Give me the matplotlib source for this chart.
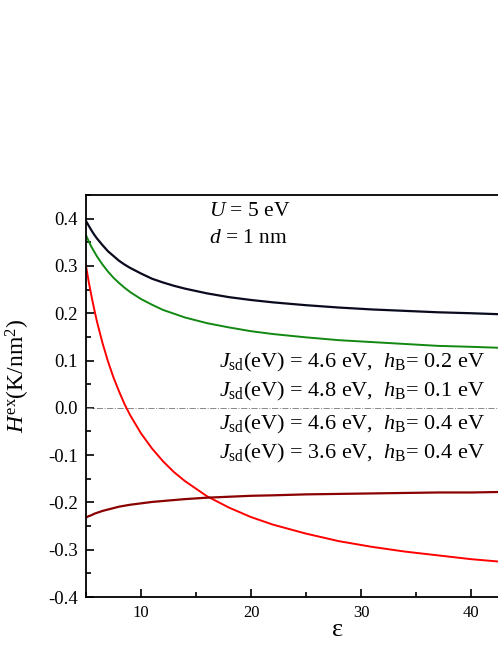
import matplotlib
matplotlib.use("Agg")
import matplotlib.pyplot as plt
from matplotlib.ticker import MultipleLocator

plt.rcParams['font.family'] = ['Liberation Serif', 'DejaVu Serif']
plt.rcParams['mathtext.fontset'] = 'custom'
plt.rcParams['mathtext.rm'] = 'Liberation Serif'
plt.rcParams['mathtext.it'] = 'Liberation Serif:italic'
plt.rcParams['mathtext.bf'] = 'Liberation Serif:bold'

# data
eps = [5, 5.25, 5.5, 5.75, 6, 6.5, 7, 7.5, 8, 8.5, 9, 10, 11, 12, 13, 14, 16, 18, 20, 22, 25, 28, 31, 34, 37, 40, 42.5]
black = [0.395, 0.385, 0.375, 0.366, 0.358, 0.344, 0.331, 0.321, 0.311, 0.303, 0.296, 0.284, 0.273, 0.265, 0.258,
         0.252, 0.242, 0.234, 0.228, 0.223, 0.217, 0.212, 0.208, 0.205, 0.202, 0.200, 0.198]
green = [0.365, 0.352, 0.340, 0.330, 0.320, 0.303, 0.288, 0.275, 0.264, 0.254, 0.245, 0.230, 0.218, 0.207, 0.199,
         0.191, 0.179, 0.170, 0.162, 0.156, 0.149, 0.143, 0.139, 0.135, 0.131, 0.129, 0.127]
red = [0.300, 0.266, 0.236, 0.208, 0.182, 0.137, 0.098, 0.064, 0.035, 0.008, -0.015, -0.054, -0.086, -0.113, -0.136,
       -0.155, -0.187, -0.211, -0.231, -0.247, -0.266, -0.282, -0.294, -0.304, -0.312, -0.320, -0.325]
darkred = [-0.232, -0.229, -0.227, -0.224, -0.222, -0.218, -0.215, -0.212, -0.209, -0.207, -0.205, -0.202, -0.199, -0.197, -0.195,
           -0.193, -0.190, -0.188, -0.186, -0.185, -0.183, -0.182, -0.181, -0.180, -0.179, -0.179, -0.178]

labels = [r'$J_\mathrm{sd}$(eV) = 4.6 eV,  $h_\mathrm{B}$= 0.2 eV',
          r'$J_\mathrm{sd}$(eV) = 4.8 eV,  $h_\mathrm{B}$= 0.1 eV',
          r'$J_\mathrm{sd}$(eV) = 4.6 eV,  $h_\mathrm{B}$= 0.4 eV',
          r'$J_\mathrm{sd}$(eV) = 3.6 eV,  $h_\mathrm{B}$= 0.4 eV']
label_y = [0.096, 0.034, -0.036, -0.096]

fig = plt.figure(figsize=(4.98, 6.45), dpi=100)
ax = fig.add_axes([86/498, 48/645, 1 - 86/498, (597-195)/645])

ax.axhline(0, color='#888888', lw=0.7, ls='-.')
ax.plot(eps, black, color='#0a0a1e', lw=1.6)
ax.plot(eps, green, color='#118811', lw=1.4)
ax.plot(eps, red, color='#ff0000', lw=1.4)
ax.plot(eps, darkred, color='#8b0000', lw=1.6)

ax.set_xlim(5, 42.45)
ax.set_ylim(-0.4, 0.45)
ax.spines['right'].set_visible(False)
for s in ['left', 'bottom', 'top']:
    ax.spines[s].set_linewidth(1.3)

ax.xaxis.set_major_locator(MultipleLocator(10))
ax.xaxis.set_minor_locator(MultipleLocator(5))
ax.yaxis.set_major_locator(MultipleLocator(0.1))
ax.yaxis.set_minor_locator(MultipleLocator(0.05))
ax.tick_params(which='both', direction='in', top=False, right=False, width=1.2)
ax.tick_params(which='major', length=6)
ax.tick_params(which='minor', length=3.5)
ax.tick_params(axis='y', labelsize=13.5, pad=6)
ax.tick_params(axis='x', labelsize=12, pad=6)
ax.set_yticks([-0.4, -0.3, -0.2, -0.1, 0.0, 0.1, 0.2, 0.3, 0.4])
ax.set_yticklabels(['-0.4', '-0.3', '-0.2', '-0.1', '0.0', '0.1', '0.2', '0.3', '0.4'])

ax.set_xlabel('ε', fontsize=19)
ax.xaxis.set_label_coords((338-86)/(498-86), -0.055)
ax.set_ylabel(r'$H^\mathrm{ex}$(K/nm$^2$)', fontsize=17)
ax.yaxis.set_label_coords(-0.131, 0.55)

ax.text(16.2, 0.415, r'$U$ = 5 eV', fontsize=15.5, va='center', ha='left')
ax.text(16.2, 0.357, r'$d$ = 1 nm', fontsize=15.5, va='center', ha='left')
for lab, yv in zip(labels, label_y):
    ax.text(29.2, yv, lab, fontsize=16, va='center', ha='center')

fig.savefig('out.png', dpi=100)
